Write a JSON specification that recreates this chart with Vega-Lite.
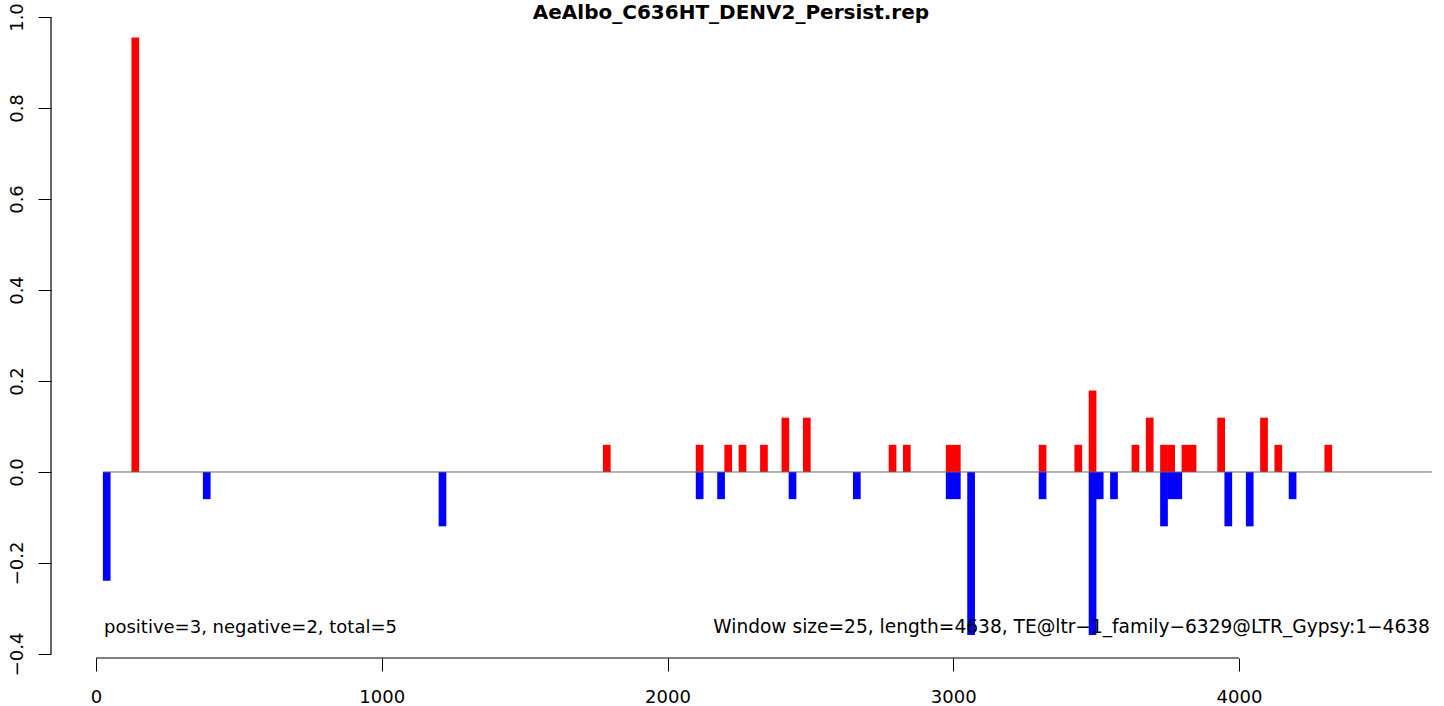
{
  "$schema": "https://vega.github.io/schema/vega-lite/v6.json",
  "width": 1381,
  "height": 641,
  "autosize": {"type": "none"},
  "padding": {"left": 51, "top": 17, "right": 12, "bottom": 48},
  "background": "white",
  "config": {
    "view": {"stroke": null},
    "font": "DejaVu Sans",
    "axis": {"labelFont": "DejaVu Sans", "labelColor": "black", "tickColor": "black", "grid": false, "domain": false}
  },
  "layer": [
    {
      "data": {
        "values": [
          {"pos": 137.5, "value": 0.9552, "strand": "positive"},
          {"pos": 1787.5, "value": 0.0597, "strand": "positive"},
          {"pos": 2112.5, "value": 0.0597, "strand": "positive"},
          {"pos": 2212.5, "value": 0.0597, "strand": "positive"},
          {"pos": 2262.5, "value": 0.0597, "strand": "positive"},
          {"pos": 2337.5, "value": 0.0597, "strand": "positive"},
          {"pos": 2412.5, "value": 0.1194, "strand": "positive"},
          {"pos": 2487.5, "value": 0.1194, "strand": "positive"},
          {"pos": 2787.5, "value": 0.0597, "strand": "positive"},
          {"pos": 2837.5, "value": 0.0597, "strand": "positive"},
          {"pos": 2987.5, "value": 0.0597, "strand": "positive"},
          {"pos": 3012.5, "value": 0.0597, "strand": "positive"},
          {"pos": 3312.5, "value": 0.0597, "strand": "positive"},
          {"pos": 3437.5, "value": 0.0597, "strand": "positive"},
          {"pos": 3487.5, "value": 0.1791, "strand": "positive"},
          {"pos": 3637.5, "value": 0.0597, "strand": "positive"},
          {"pos": 3687.5, "value": 0.1194, "strand": "positive"},
          {"pos": 3737.5, "value": 0.0597, "strand": "positive"},
          {"pos": 3762.5, "value": 0.0597, "strand": "positive"},
          {"pos": 3812.5, "value": 0.0597, "strand": "positive"},
          {"pos": 3837.5, "value": 0.0597, "strand": "positive"},
          {"pos": 3937.5, "value": 0.1194, "strand": "positive"},
          {"pos": 4087.5, "value": 0.1194, "strand": "positive"},
          {"pos": 4137.5, "value": 0.0597, "strand": "positive"},
          {"pos": 4312.5, "value": 0.0597, "strand": "positive"},
          {"pos": 37.5, "value": -0.2388, "strand": "negative"},
          {"pos": 387.5, "value": -0.0597, "strand": "negative"},
          {"pos": 1212.5, "value": -0.1194, "strand": "negative"},
          {"pos": 2112.5, "value": -0.0597, "strand": "negative"},
          {"pos": 2187.5, "value": -0.0597, "strand": "negative"},
          {"pos": 2437.5, "value": -0.0597, "strand": "negative"},
          {"pos": 2662.5, "value": -0.0597, "strand": "negative"},
          {"pos": 2987.5, "value": -0.0597, "strand": "negative"},
          {"pos": 3012.5, "value": -0.0597, "strand": "negative"},
          {"pos": 3062.5, "value": -0.3582, "strand": "negative"},
          {"pos": 3312.5, "value": -0.0597, "strand": "negative"},
          {"pos": 3487.5, "value": -0.3582, "strand": "negative"},
          {"pos": 3512.5, "value": -0.0597, "strand": "negative"},
          {"pos": 3562.5, "value": -0.0597, "strand": "negative"},
          {"pos": 3737.5, "value": -0.1194, "strand": "negative"},
          {"pos": 3762.5, "value": -0.0597, "strand": "negative"},
          {"pos": 3787.5, "value": -0.0597, "strand": "negative"},
          {"pos": 3962.5, "value": -0.1194, "strand": "negative"},
          {"pos": 4037.5, "value": -0.1194, "strand": "negative"},
          {"pos": 4187.5, "value": -0.0597, "strand": "negative"}
        ]
      },
      "mark": {"type": "bar", "width": 7.7},
      "encoding": {
        "x": {
          "field": "pos",
          "type": "quantitative",
          "scale": {"domain": [-157.5, 4675.4], "nice": false, "zero": false, "padding": 0},
          "axis": {
            "values": [0, 1000, 2000, 3000, 4000],
            "format": "d",
            "title": null,
            "tickSize": 13,
            "labelFontSize": 18,
            "labelPadding": 17,
            "labelFlush": false,
            "labelOverlap": false
          }
        },
        "y": {
          "field": "value",
          "type": "quantitative",
          "scale": {"domain": [-0.4088, 1.0], "nice": false, "zero": false, "padding": 0},
          "axis": {
            "values": [-0.4, -0.2, 0, 0.2, 0.4, 0.6, 0.8, 1.0],
            "format": ".1f",
            "title": null,
            "tickSize": 13,
            "labelFontSize": 18,
            "labelAngle": 270,
            "labelAlign": "center",
            "labelBaseline": "alphabetic",
            "labelPadding": 16,
            "labelFlush": false,
            "labelOverlap": false
          }
        },
        "y2": {"datum": 0},
        "color": {
          "field": "strand",
          "type": "nominal",
          "scale": {"domain": ["positive", "negative"], "range": ["#FF0000", "#0000FF"]},
          "legend": null
        }
      }
    },
    {
      "data": {"values": [{"x1": 25, "x2": 4675, "y": 0}]},
      "mark": {"type": "rule", "color": "#666666", "strokeWidth": 1},
      "encoding": {
        "x": {"field": "x1", "type": "quantitative"},
        "x2": {"field": "x2"},
        "y": {"field": "y", "type": "quantitative"}
      }
    },
    {
      "data": {"values": [{"x": -157.5, "y1": -0.4, "y2": 1.0}]},
      "mark": {"type": "rule", "color": "black", "strokeWidth": 1.2},
      "encoding": {
        "x": {"field": "x", "type": "quantitative"},
        "y": {"field": "y1", "type": "quantitative"},
        "y2": {"field": "y2"}
      }
    },
    {
      "data": {"values": [{"x1": 0, "x2": 4000, "y": -0.4088}]},
      "mark": {"type": "rule", "color": "black", "strokeWidth": 1.2},
      "encoding": {
        "x": {"field": "x1", "type": "quantitative"},
        "x2": {"field": "x2"},
        "y": {"field": "y", "type": "quantitative"}
      }
    },
    {
      "data": {"values": [{"label": "AeAlbo_C636HT_DENV2_Persist.rep", "x": 2222, "y": 0.996}]},
      "mark": {"type": "text", "font": "DejaVu Sans", "fontSize": 20, "fontWeight": "bold", "align": "center", "baseline": "alphabetic", "color": "black"},
      "encoding": {
        "x": {"field": "x", "type": "quantitative"},
        "y": {"field": "y", "type": "quantitative"},
        "text": {"field": "label"}
      }
    },
    {
      "data": {"values": [{"label": "positive=3, negative=2, total=5", "x": 28, "y": -0.3535}]},
      "mark": {"type": "text", "font": "DejaVu Sans", "fontSize": 18, "align": "left", "baseline": "alphabetic", "color": "black"},
      "encoding": {
        "x": {"field": "x", "type": "quantitative"},
        "y": {"field": "y", "type": "quantitative"},
        "text": {"field": "label"}
      }
    },
    {
      "data": {"values": [{"label": "Window size=25, length=4638, TE@ltr−1_family−6329@LTR_Gypsy:1−4638", "x": 4668, "y": -0.3535}]},
      "mark": {"type": "text", "font": "DejaVu Sans", "fontSize": 18.6, "align": "right", "baseline": "alphabetic", "color": "black"},
      "encoding": {
        "x": {"field": "x", "type": "quantitative"},
        "y": {"field": "y", "type": "quantitative"},
        "text": {"field": "label"}
      }
    }
  ]
}
